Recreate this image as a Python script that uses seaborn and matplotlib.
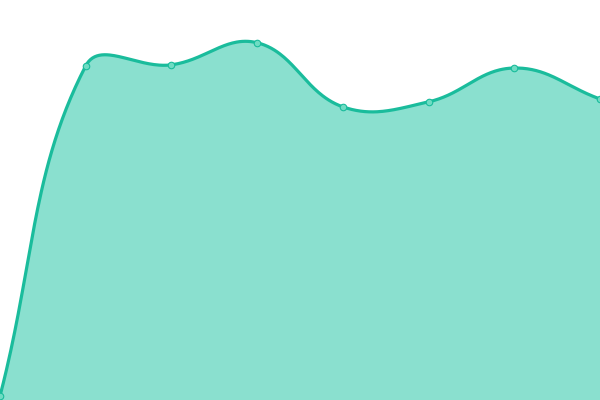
import numpy as np
import pandas as pd
from matplotlib import pyplot as plt
import seaborn as sns

# values (arbitrary units, 0 at the bottom)
steps = [0, 1, 2, 3, 4, 5, 6, 7]
values = [0.0, 92.7, 93.0, 99.2, 81.2, 82.6, 92.1, 83.4]

LINE = '#1abc9c'
FILL = '#8ae0cf'
POINT = '#6fdcc3'


def spline_points(px, py, tension=0.4):
    # chart.js style cubic interpolation, done in pixel space
    n = len(px)
    c_prev, c_next = [], []
    for i in range(n):
        x0, y0 = (px[i - 1], py[i - 1]) if i > 0 else (px[i], py[i])
        x2, y2 = (px[i + 1], py[i + 1]) if i < n - 1 else (px[i], py[i])
        d01 = np.hypot(px[i] - x0, py[i] - y0)
        d12 = np.hypot(x2 - px[i], y2 - py[i])
        tot = d01 + d12
        s01 = d01 / tot if tot else 0
        s12 = d12 / tot if tot else 0
        fa, fb = tension * s01, tension * s12
        c_prev.append((px[i] - fa * (x2 - x0), py[i] - fa * (y2 - y0)))
        c_next.append((px[i] + fb * (x2 - x0), py[i] + fb * (y2 - y0)))
    xs, ys = [], []
    t = np.linspace(0, 1, 60)
    for i in range(n - 1):
        p0 = np.array([px[i], py[i]])
        p1 = np.array(c_next[i])
        p2 = np.array(c_prev[i + 1])
        p3 = np.array([px[i + 1], py[i + 1]])
        pts = ((1 - t) ** 3)[:, None] * p0 + (3 * (1 - t) ** 2 * t)[:, None] * p1 \
            + (3 * (1 - t) * t ** 2)[:, None] * p2 + (t ** 3)[:, None] * p3
        xs.extend(pts[:, 0])
        ys.extend(pts[:, 1])
    return np.array(xs), np.array(ys)


if __name__ == '__main__':
    sns.set_style('white')
    fig = plt.figure(figsize=(6, 4), dpi=100)
    ax = fig.add_axes([0, 0, 1, 1])
    ax.set_xlim(0, 7)
    ax.set_ylim(-1.12, 111.2)

    pix = ax.transData.transform(np.column_stack([steps, values]))
    cx, cy = spline_points(pix[:, 0], pix[:, 1])
    curve = ax.transData.inverted().transform(np.column_stack([cx, cy]))
    df = pd.DataFrame({'x': curve[:, 0], 'y': curve[:, 1]})

    ax.fill_between(df['x'], df['y'], -1.12, color=FILL, lw=0)
    sns.lineplot(data=df, x='x', y='y', sort=False, color=LINE, lw=2.3, ax=ax)
    sns.scatterplot(x=steps, y=values, s=22, color=POINT, edgecolor=LINE,
                    linewidth=0.8, zorder=5, clip_on=False, ax=ax)

    ax.set_xlim(0, 7)
    ax.set_ylim(-1.12, 111.2)
    ax.axis('off')
    fig.savefig('out.png', dpi=100)
